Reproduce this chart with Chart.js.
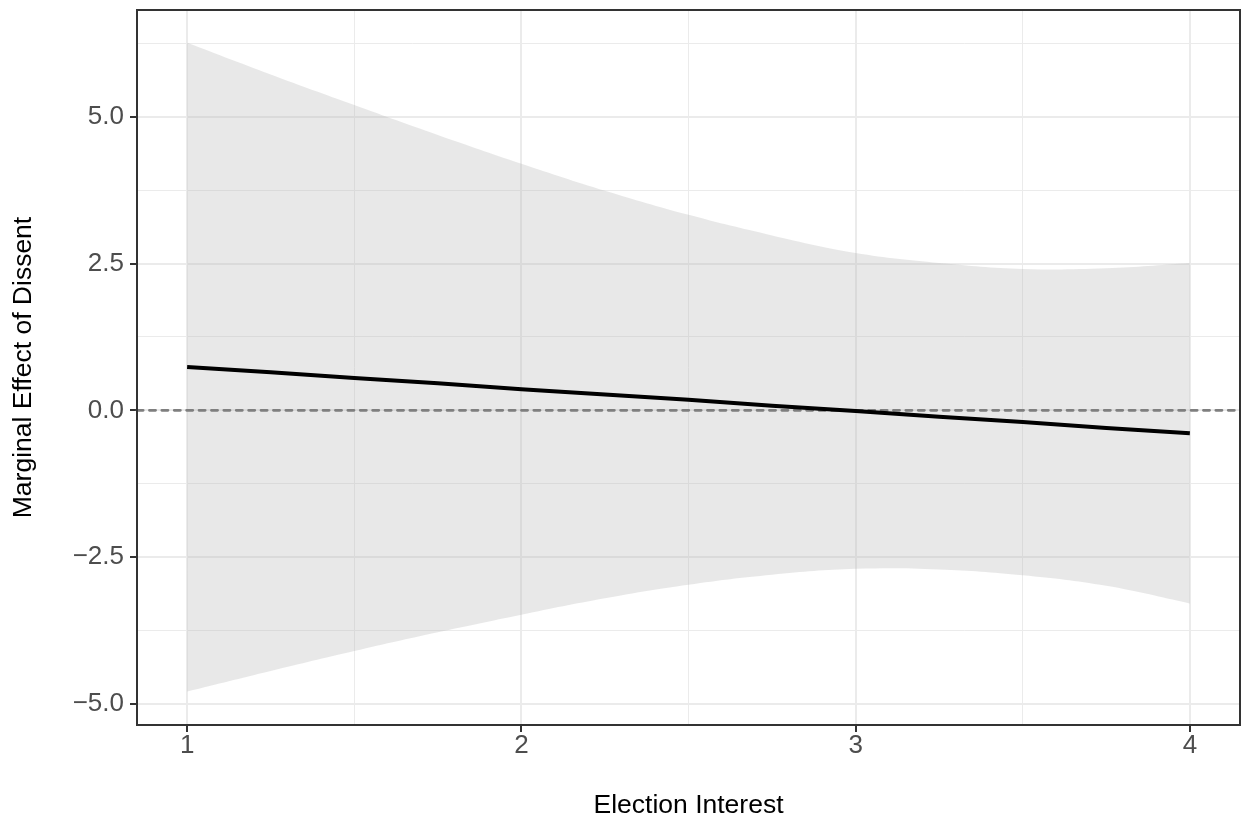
<!DOCTYPE html>
<html>
<head>
<meta charset="utf-8">
<script src="https://cdn.jsdelivr.net/npm/chart.js@4"></script>
<style>
  html, body { margin: 0; padding: 0; background: #ffffff; }
  #wrap { width: 1241px; height: 819px; }
</style>
</head>
<body>
<div id="wrap"><canvas id="meChart" width="1241" height="819"></canvas></div>
<script>
// Marginal effect of dissent across election interest, with confidence band
const xValues = [1, 1.25, 1.5, 1.75, 2, 2.25, 2.5, 2.75, 3, 3.25, 3.5, 3.75, 4];
const effect  = [0.74, 0.65, 0.55, 0.46, 0.36, 0.27, 0.18, 0.08, -0.01, -0.11, -0.20, -0.30, -0.39];
const upperCI = [6.26, 5.72, 5.20, 4.69, 4.20, 3.74, 3.33, 2.98, 2.68, 2.51, 2.41, 2.42, 2.51];
const lowerCI = [-4.79, -4.44, -4.10, -3.78, -3.48, -3.20, -2.97, -2.80, -2.70, -2.71, -2.81, -2.99, -3.29];

const xMajorTicks = [1, 2, 3, 4];
const xMinorTicks = [1.5, 2.5, 3.5];
const xTickLabels = ["1", "2", "3", "4"];
const yMajorTicks = [-5, -2.5, 0, 2.5, 5];
const yMinorTicks = [-3.75, -1.25, 1.25, 3.75, 6.25];
const yTickLabels = ["\u22125.0", "\u22122.5", "0.0", "2.5", "5.0"];

const xLimits = [0.85, 4.15];
const yLimits = [-5.36, 6.82];

const FONT = "'Liberation Sans', Arial, Helvetica, sans-serif";

function toPoints(ys) {
  return xValues.map((x, i) => ({ x: x, y: ys[i] }));
}

function gridStyle(majors) {
  return {
    drawOnChartArea: true,
    drawTicks: true,
    tickLength: 7,
    color: "#EBEBEB",
    lineWidth: (c) => (c.tick && majors.includes(c.tick.value) ? 2 : 1),
    tickColor: (c) => (c.tick && majors.includes(c.tick.value) ? "#333333" : "rgba(0,0,0,0)"),
    tickWidth: 2
  };
}

// zero reference line, drawn over the band but under the estimate line
const zeroLinePlugin = {
  id: "zeroLine",
  beforeDatasetDraw(chart, args) {
    if (args.index !== 0) return;
    const { ctx, chartArea, scales } = chart;
    const y = scales.y.getPixelForValue(0);
    ctx.save();
    ctx.strokeStyle = "#7F7F7F";
    ctx.lineWidth = 2.7;
    ctx.lineCap = "round";
    ctx.setLineDash([6.2, 6.2]);
    ctx.beginPath();
    ctx.moveTo(chartArea.left, y);
    ctx.lineTo(chartArea.right, y);
    ctx.stroke();
    ctx.restore();
  }
};

// panel border like theme_bw
const panelBorderPlugin = {
  id: "panelBorder",
  afterDraw(chart) {
    const { ctx, chartArea } = chart;
    ctx.save();
    ctx.strokeStyle = "#333333";
    ctx.lineWidth = 2;
    ctx.strokeRect(chartArea.left, chartArea.top, chartArea.right - chartArea.left, chartArea.bottom - chartArea.top);
    ctx.restore();
  }
};

new Chart(document.getElementById("meChart"), {
  type: "line",
  data: {
    datasets: [
      {
        label: "Marginal effect",
        data: toPoints(effect),
        borderColor: "#000000",
        borderWidth: 4,
        pointRadius: 0,
        tension: 0,
        fill: false,
        order: 1
      },
      {
        label: "Upper",
        data: toPoints(upperCI),
        borderWidth: 0,
        borderColor: "rgba(0,0,0,0)",
        backgroundColor: "rgba(179,179,179,0.3)",
        pointRadius: 0,
        tension: 0.4,
        fill: "+1",
        order: 3
      },
      {
        label: "Lower",
        data: toPoints(lowerCI),
        borderWidth: 0,
        borderColor: "rgba(0,0,0,0)",
        pointRadius: 0,
        tension: 0.4,
        fill: false,
        order: 3
      }
    ]
  },
  options: {
    responsive: false,
    animation: false,
    events: [],
    layout: { padding: { top: 10, right: 1, bottom: 0, left: 0 } },
    plugins: {
      legend: { display: false },
      tooltip: { enabled: false }
    },
    scales: {
      x: {
        type: "linear",
        min: xLimits[0],
        max: xLimits[1],
        afterBuildTicks: (scale) => {
          scale.ticks = xMajorTicks.concat(xMinorTicks).sort((a, b) => a - b).map((v) => ({ value: v }));
        },
        afterFit: (scale) => {
          scale.height = 94;
          scale.paddingLeft = 0;
          scale.paddingRight = 0;
        },
        border: { display: false },
        grid: gridStyle(xMajorTicks),
        ticks: {
          autoSkip: false,
          maxRotation: 0,
          padding: 1,
          color: "#4D4D4D",
          font: { family: FONT, size: 26, lineHeight: 1 },
          callback: (v) => {
            const i = xMajorTicks.indexOf(v);
            return i >= 0 ? xTickLabels[i] : "";
          }
        },
        title: {
          display: true,
          text: "Election Interest",
          color: "#000000",
          font: { family: FONT, size: 26.5, lineHeight: 1 },
          padding: { top: 0, bottom: 0 }
        }
      },
      y: {
        type: "linear",
        min: yLimits[0],
        max: yLimits[1],
        afterBuildTicks: (scale) => {
          scale.ticks = yMajorTicks.concat(yMinorTicks).sort((a, b) => a - b).map((v) => ({ value: v }));
        },
        afterFit: (scale) => {
          scale.width = 137;
          scale.paddingTop = 0;
          scale.paddingBottom = 0;
        },
        border: { display: false },
        grid: gridStyle(yMajorTicks),
        ticks: {
          autoSkip: false,
          padding: 6,
          color: "#4D4D4D",
          font: { family: FONT, size: 26, lineHeight: 1 },
          callback: (v) => {
            const i = yMajorTicks.indexOf(v);
            return i >= 0 ? yTickLabels[i] : "";
          }
        },
        title: {
          display: true,
          text: "Marginal Effect of Dissent",
          color: "#000000",
          font: { family: FONT, size: 26.5, lineHeight: 1 },
          padding: { top: 10.5, bottom: 0 }
        }
      }
    }
  },
  plugins: [zeroLinePlugin, panelBorderPlugin]
});
</script>
</body>
</html>
